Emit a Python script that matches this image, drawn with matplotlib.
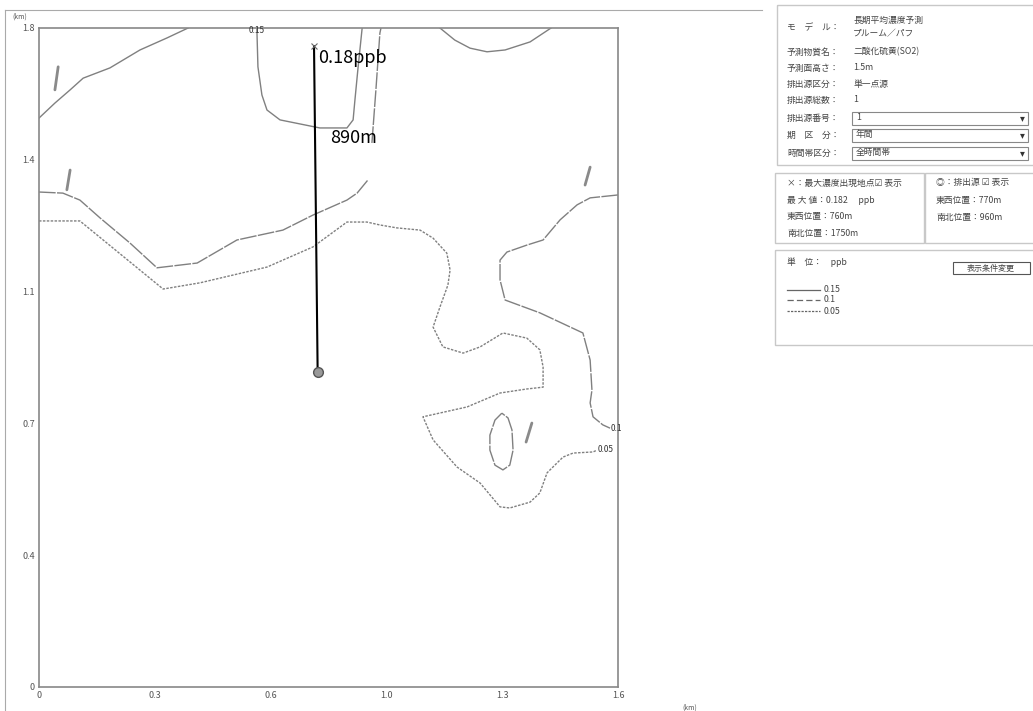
import matplotlib

matplotlib.use("Agg")
import matplotlib.pyplot as plt
from matplotlib.patches import Rectangle
import numpy as np

plt.rcParams["font.family"] = ["Noto Sans CJK JP", "DejaVu Sans"]

# --- contour lines (km) ---
# 0.15 ppb
c15_a_x = [0.0, 0.044, 0.086, 0.122, 0.196, 0.279, 0.354, 0.412]
c15_a_y = [1.554, 1.595, 1.631, 1.663, 1.691, 1.740, 1.773, 1.800]
c15_b_x = [0.602, 0.605, 0.616, 0.630, 0.666, 0.776, 0.851, 0.868, 0.873, 0.881, 0.893]
c15_b_y = [1.800, 1.694, 1.617, 1.576, 1.549, 1.527, 1.527, 1.549, 1.603, 1.685, 1.800]
c15_c_x = [1.108, 1.149, 1.191, 1.238, 1.288, 1.357, 1.415]
c15_c_y = [1.800, 1.767, 1.745, 1.735, 1.740, 1.762, 1.800]

# 0.1 ppb (the upper one is broken where the 890m label sits)
c10_a_x = [0.0, 0.066, 0.113, 0.169, 0.251, 0.326, 0.437, 0.547, 0.674, 0.757,
           0.851, 0.879, 0.909]
c10_a_y = [1.352, 1.349, 1.330, 1.281, 1.213, 1.145, 1.158, 1.221, 1.248, 1.289,
           1.330, 1.349, 1.385]
c10_d_x = [0.920, 0.931, 0.942, 0.945]
c10_d_y = [1.486, 1.631, 1.786, 1.800]
c10_b_x = [1.600, 1.523, 1.487, 1.440, 1.393, 1.348, 1.293, 1.274, 1.274, 1.288,
           1.384, 1.503, 1.523, 1.528, 1.523, 1.531, 1.558, 1.578]
c10_b_y = [1.344, 1.336, 1.317, 1.276, 1.221, 1.207, 1.188, 1.166, 1.112, 1.057,
           1.022, 0.967, 0.893, 0.811, 0.776, 0.738, 0.716, 0.707]
c10_c_x = [1.279, 1.260, 1.246, 1.246, 1.260, 1.282, 1.301, 1.310, 1.307, 1.296, 1.279]
c10_c_y = [0.748, 0.729, 0.688, 0.647, 0.606, 0.593, 0.606, 0.647, 0.702, 0.735, 0.748]

# 0.05 ppb
c05_x = [0.0, 0.113, 0.343, 0.445, 0.630, 0.757, 0.851, 0.906, 0.942, 0.989, 1.053,
         1.089, 1.127, 1.136, 1.130, 1.108, 1.089, 1.116, 1.172, 1.219, 1.282, 1.348,
         1.384, 1.393, 1.393, 1.348, 1.274, 1.183, 1.061, 1.089, 1.155, 1.219, 1.274,
         1.301, 1.357, 1.384, 1.404, 1.448, 1.476, 1.531, 1.542]
c05_y = [1.273, 1.273, 1.087, 1.104, 1.147, 1.202, 1.270, 1.270, 1.262, 1.254, 1.248,
         1.226, 1.185, 1.139, 1.098, 1.038, 0.983, 0.929, 0.912, 0.929, 0.967, 0.953,
         0.921, 0.874, 0.819, 0.814, 0.803, 0.765, 0.738, 0.675, 0.601, 0.557, 0.492,
         0.489, 0.505, 0.530, 0.585, 0.628, 0.639, 0.642, 0.647]

# short tick marks drawn by the software along the contours
marks_x = [[0.053, 0.044], [0.086, 0.077], [1.523, 1.509], [1.362, 1.346]]
marks_y = [[1.694, 1.631], [1.412, 1.358], [1.420, 1.371], [0.721, 0.669]]

# max concentration point and source (km)
max_x, max_y = 0.76, 1.75
src_x, src_y = 0.77, 0.86

xticks = np.linspace(0, 1.6, 6)
yticks = np.linspace(0, 1.8, 6)
xtick_labels = ["0", "0.3", "0.6", "1.0", "1.3", "1.6"]
ytick_labels = ["0", "0.4", "0.7", "1.1", "1.4", "1.8"]

styles = {0.15: "-", 0.1: (0, (12, 1.0)), 0.05: (0, (1.8, 1.0))}
lines = [
    (0.15, c15_a_x, c15_a_y), (0.15, c15_b_x, c15_b_y), (0.15, c15_c_x, c15_c_y),
    (0.1, c10_a_x, c10_a_y), (0.1, c10_d_x, c10_d_y), (0.1, c10_b_x, c10_b_y),
    (0.1, c10_c_x, c10_c_y),
    (0.05, c05_x, c05_y),
]

W, H = 1033, 711
fig = plt.figure(figsize=(W / 100, H / 100), dpi=100)
ax = fig.add_axes([39 / W, 24 / H, 579 / W, 659 / H])

for level, xs, ys in lines:
    ax.plot(xs, ys, color="#808080", lw=1.0, ls=styles[level])
for xs, ys in zip(marks_x, marks_y):
    ax.plot(xs, ys, color="#8a8a8a", lw=2.0, solid_capstyle="round")

ax.text(0.58, 1.787, "0.15", fontsize=6, color="#333")
ax.text(1.581, 0.707, "0.1", fontsize=6, color="#333", va="center")
ax.text(1.545, 0.650, "0.05", fontsize=6, color="#333", va="center")

ax.plot([max_x, src_x], [max_y, src_y], color="black", lw=1.5)
ax.plot(max_x, max_y, marker="x", ms=4, color="#666", mew=0.8)
ax.plot(src_x, src_y, marker="o", ms=7, mfc="#999", mec="#555", mew=1)
ax.text(0.771, 1.718, "0.18ppb", fontsize=13, va="center", color="black")
ax.text(0.804, 1.50, "890m", fontsize=13, va="center", color="black")

ax.set_xlim(0, 1.6)
ax.set_ylim(0, 1.8)
ax.set_xticks(xticks)
ax.set_xticklabels(xtick_labels)
ax.set_yticks(yticks)
ax.set_yticklabels(ytick_labels)
ax.tick_params(length=0, labelsize=6.5, labelcolor="#555", pad=3)
for s in ax.spines.values():
    s.set_color("#888")
    s.set_linewidth(1.2)

# overlay in pixel coordinates for the window frame and side panel
ov = fig.add_axes([0, 0, 1, 1])
ov.set_xlim(0, W)
ov.set_ylim(H, 0)
ov.axis("off")

ov.plot([5, 762], [10, 10], color="#aaa", lw=0.8)
ov.plot([5, 5], [10, H], color="#aaa", lw=0.8)
ov.text(12, 17, "(km)", fontsize=5, color="#555", va="center")
ov.text(682, 708, "(km)", fontsize=5, color="#555", va="center")

box = dict(fill=False, edgecolor="#c8c8c8", lw=1)
ov.add_patch(Rectangle((777, 5), 270, 160, **box))
ov.add_patch(Rectangle((775, 173), 149, 70, **box))
ov.add_patch(Rectangle((925, 173), 120, 70, **box))
ov.add_patch(Rectangle((775, 250), 270, 95, **box))

fs = 6.3
tc = "#444"
ov.text(787, 28, "モ　デ　ル：", fontsize=fs, color=tc, va="center")
ov.text(853, 20, "長期平均濃度予測", fontsize=fs, color=tc, va="center")
ov.text(853, 34, "プルーム／パフ", fontsize=fs, color=tc, va="center")
rows = [("予測物質名：", "二酸化硫黄(SO2)", 52), ("予測面高さ：", "1.5m", 68),
        ("排出源区分：", "単一点源", 84), ("排出源総数：", "1", 100)]
for lab, val, y in rows:
    ov.text(787, y, lab, fontsize=fs, color=tc, va="center")
    ov.text(853, y, val, fontsize=fs, color=tc, va="center")
combos = [("排出源番号：", "1", 118), ("期　区　分：", "年間", 135), ("時間帯区分：", "全時間帯", 153)]
for lab, val, y in combos:
    ov.text(787, y, lab, fontsize=fs, color=tc, va="center")
    ov.add_patch(Rectangle((852, y - 6.5), 176, 13, fill=False, edgecolor="#888", lw=0.8))
    ov.text(856, y, val, fontsize=fs, color=tc, va="center")
    ov.text(1022, y, "▾", fontsize=7, color="#333", va="center", ha="center",
            family=["DejaVu Sans"])

ov.text(787, 183, "×：最大濃度出現地点☑ 表示", fontsize=fs, color=tc, va="center")
ov.text(787, 200, "最 大 値：0.182　 ppb", fontsize=fs, color=tc, va="center")
ov.text(787, 217, "東西位置：760m", fontsize=fs, color=tc, va="center")
ov.text(787, 233, "南北位置：1750m", fontsize=fs, color=tc, va="center")
ov.text(936, 183, "◎：排出源 ☑ 表示", fontsize=fs, color=tc, va="center")
ov.text(936, 200, "東西位置：770m", fontsize=fs, color=tc, va="center")
ov.text(936, 217, "南北位置：960m", fontsize=fs, color=tc, va="center")

ov.text(787, 262, "単　位：　ppb", fontsize=fs, color=tc, va="center")
ov.add_patch(Rectangle((953, 262), 77, 12, facecolor="white", edgecolor="#555", lw=0.8))
ov.text(991, 268, "表示条件変更", fontsize=5.8, color=tc, va="center", ha="center")
for (lev, y) in [(0.15, 290), (0.1, 300), (0.05, 311)]:
    ls = (0, (5, 2.5)) if lev == 0.1 else styles[lev]
    ov.plot([787, 820], [y, y], color="#666", lw=0.9, ls=ls)
    ov.text(824, y, str(lev), fontsize=fs, color=tc, va="center")

fig.savefig("out.png", dpi=100)
